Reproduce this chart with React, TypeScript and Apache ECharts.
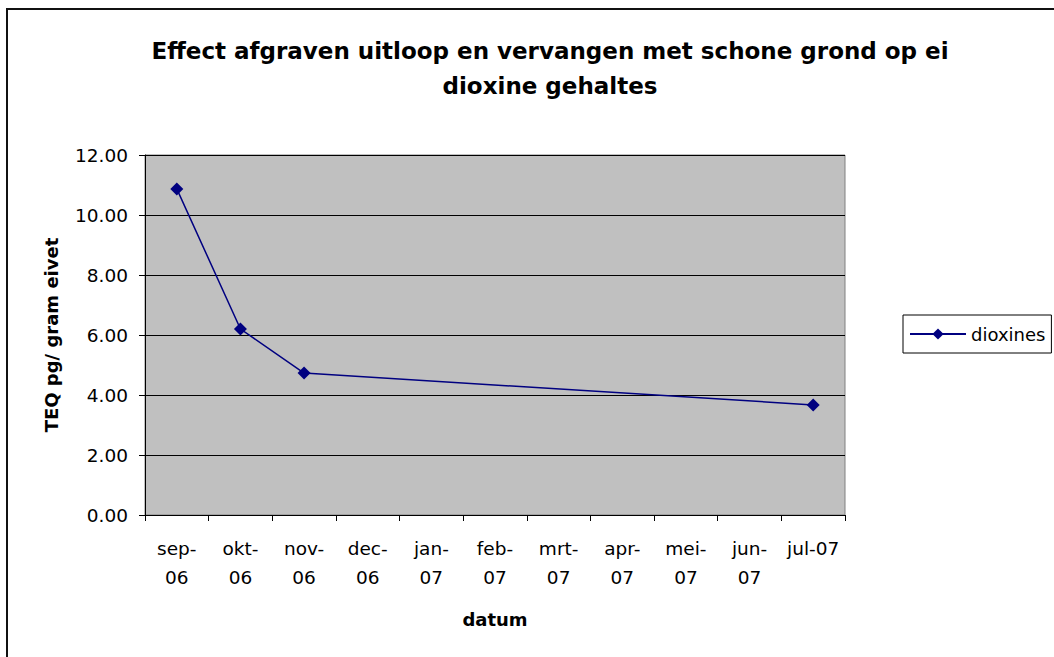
import React, { useEffect, useRef } from "react";
import * as echarts from "echarts";

const categories = [
  "sep-\n06", "okt-\n06", "nov-\n06", "dec-\n06", "jan-\n07", "feb-\n07",
  "mrt-\n07", "apr-\n07", "mei-\n07", "jun-\n07", "jul-07",
];
const dioxines: (number | null)[] = [10.87, 6.2, 4.73, null, null, null, null, null, null, null, 3.67];
const titleText = "Effect afgraven uitloop en vervangen met schone grond op ei\ndioxine gehaltes";
const yName = "TEQ pg/ gram eivet";
const xName = "datum";
const seriesName = "dioxines";

const FONT = "DejaVu Sans, Liberation Sans, Arial, sans-serif";

export default function App() {
  const ref = useRef<HTMLDivElement>(null);
  useEffect(() => {
    if (!ref.current) return;
    const chart = echarts.init(ref.current, undefined, { renderer: "svg" });
    chart.setOption({
      animation: false,
      backgroundColor: "#ffffff",
      textStyle: { fontFamily: FONT },
      title: {
        text: titleText,
        left: 545,
        top: 28,
        textAlign: "center",
        textStyle: { fontFamily: FONT, fontSize: 23, fontWeight: "bold", color: "#000", lineHeight: 35 },
      },
      graphic: [
        {
          type: "rect",
          shape: { x: 7, y: 9, width: 2000, height: 2000 },
          style: { fill: "none", stroke: "#111", lineWidth: 2 },
          silent: true,
          z: 100,
        },
      ],
      legend: {
        left: 903,
        top: 315,
        orient: "vertical",
        data: [seriesName],
        borderColor: "#000",
        borderWidth: 1,
        padding: [10, 6, 10, 6],
        itemWidth: 56,
        itemHeight: 14,
        itemGap: 0,
        textStyle: { fontFamily: FONT, fontSize: 18, color: "#000" },
      },
      grid: {
        left: 145,
        top: 155,
        right: 209,
        bottom: 142,
        show: true,
        backgroundColor: "#C0C0C0",
        borderColor: "#808080",
        borderWidth: 1,
        containLabel: false,
      },
      xAxis: {
        type: "category",
        data: categories,
        boundaryGap: true,
        name: xName,
        nameLocation: "middle",
        nameGap: 95,
        nameTextStyle: { fontFamily: FONT, fontSize: 18, fontWeight: "bold", color: "#000" },
        axisLine: { show: true, lineStyle: { color: "#000", width: 1 } },
        axisTick: { show: true, interval: 0, length: 6, lineStyle: { color: "#000" } },
        axisLabel: { interval: 0, fontFamily: FONT, fontSize: 18.5, color: "#000", lineHeight: 29, margin: 19 },
        splitLine: { show: false },
      },
      yAxis: {
        type: "value",
        min: 0,
        max: 12,
        interval: 2,
        name: yName,
        nameLocation: "middle",
        nameRotate: 90,
        nameGap: 85,
        nameTextStyle: { fontFamily: FONT, fontSize: 18, fontWeight: "bold", color: "#000" },
        axisLine: { show: true, lineStyle: { color: "#000", width: 1 } },
        axisTick: { show: true, length: 6, lineStyle: { color: "#000" } },
        axisLabel: {
          fontFamily: FONT,
          fontSize: 18.5,
          color: "#000",
          margin: 17,
          formatter: (v: number) => v.toFixed(2),
        },
        splitLine: { show: true, lineStyle: { color: "#000", width: 1 } },
      },
      series: [
        {
          name: seriesName,
          type: "line",
          data: dioxines,
          connectNulls: true,
          symbol: "diamond",
          symbolSize: 13,
          itemStyle: { color: "#000080" },
          lineStyle: { color: "#000080", width: 1.5 },
        },
      ],
    });
    return () => chart.dispose();
  }, []);
  return <div ref={ref} style={{ position: "absolute", left: 0, top: 0, width: 1054, height: 657 }} />;
}
